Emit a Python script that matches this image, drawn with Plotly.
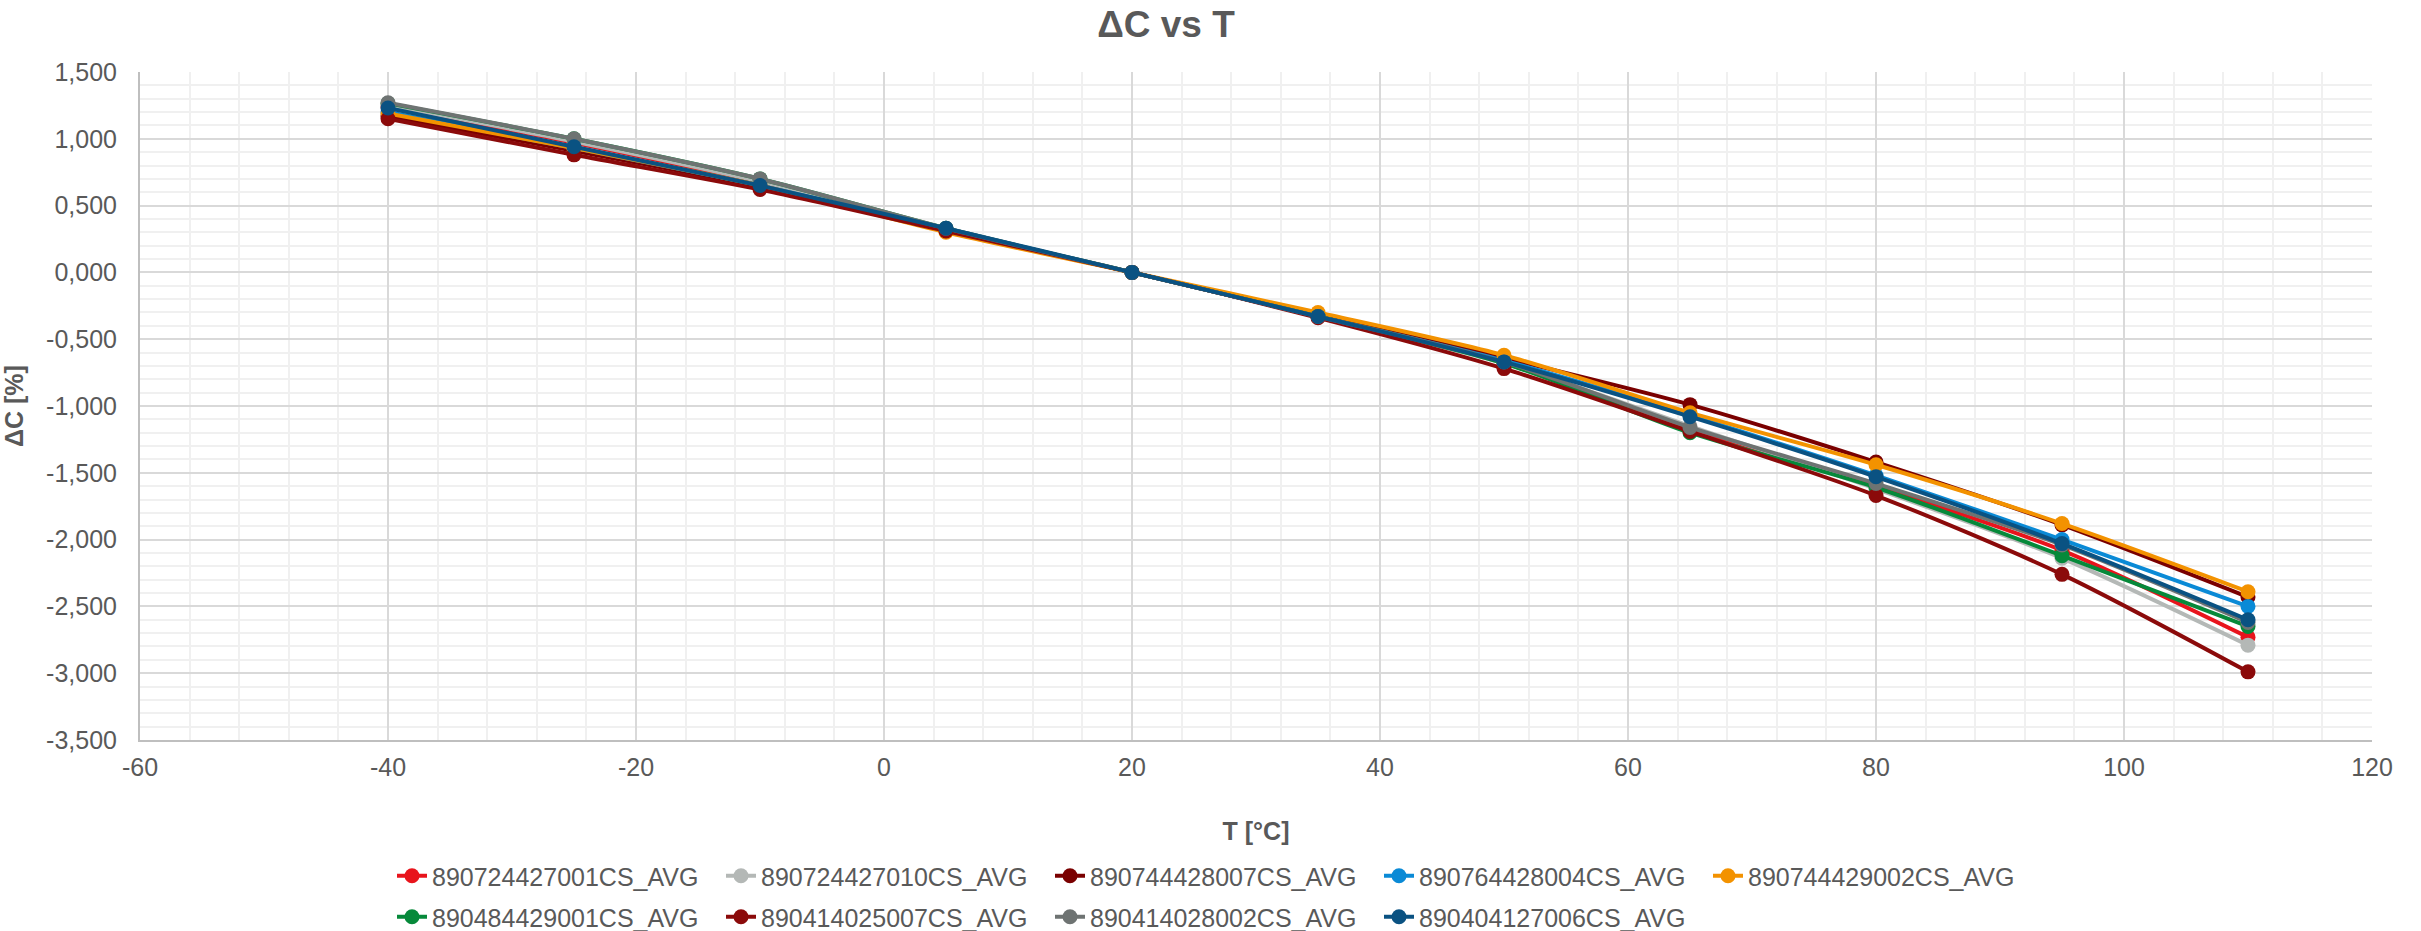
import plotly.graph_objects as go

temps = [-40, -25, -10, 5, 20, 35, 50, 65, 80, 95, 110]

names = [
    "890724427001CS_AVG", "890724427010CS_AVG", "890744428007CS_AVG",
    "890764428004CS_AVG", "890744429002CS_AVG", "890484429001CS_AVG",
    "890414025007CS_AVG", "890414028002CS_AVG", "890404127006CS_AVG",
]

s_724427001 = [1.24, 0.97, 0.67, 0.32, 0.0, -0.33, -0.67, -1.17, -1.60, -2.08, -2.73]
s_724427010 = [1.25, 0.98, 0.68, 0.32, 0.0, -0.33, -0.68, -1.15, -1.62, -2.14, -2.79]
s_744428007 = [1.17, 0.91, 0.64, 0.31, 0.0, -0.32, -0.64, -0.99, -1.42, -1.89, -2.43]
s_764428004 = [1.20, 0.93, 0.65, 0.32, 0.0, -0.33, -0.66, -1.07, -1.52, -2.00, -2.50]
s_744429002 = [1.19, 0.93, 0.65, 0.30, 0.0, -0.30, -0.62, -1.05, -1.44, -1.88, -2.39]
s_484429001 = [1.265, 1.00, 0.70, 0.33, 0.0, -0.33, -0.68, -1.20, -1.61, -2.12, -2.65]
s_414025007 = [1.15, 0.88, 0.62, 0.31, 0.0, -0.34, -0.72, -1.19, -1.67, -2.26, -2.99]
s_414028002 = [1.27, 1.00, 0.70, 0.33, 0.0, -0.33, -0.67, -1.16, -1.58, -2.04, -2.62]
s_404127006 = [1.23, 0.94, 0.65, 0.33, 0.0, -0.33, -0.67, -1.08, -1.53, -2.03, -2.60]

series = [s_724427001, s_724427010, s_744428007, s_764428004, s_744429002,
          s_484429001, s_414025007, s_414028002, s_404127006]

colors = ["#E8141C", "#B4B8B6", "#7A0000", "#0A8AD6", "#F39200",
          "#06893A", "#8B0A0A", "#6E7372", "#0A5282"]

x_tickvals = [-60, -40, -20, 0, 20, 40, 60, 80, 100, 120]
x_ticktext = ["-60", "-40", "-20", "0", "20", "40", "60", "80", "100", "120"]
y_tickvals = [1.5, 1.0, 0.5, 0.0, -0.5, -1.0, -1.5, -2.0, -2.5, -3.0, -3.5]
y_ticktext = ["1,500", "1,000", "0,500", "0,000", "-0,500", "-1,000", "-1,500",
              "-2,000", "-2,500", "-3,000", "-3,500"]

FONT = "Liberation Sans, Arial, sans-serif"
TXT = "#595959"

fig = go.Figure()
for i, (name, vals, col) in enumerate(zip(names, series, colors)):
    fig.add_trace(go.Scatter(
        x=temps, y=vals, name=name, mode="lines+markers",
        line=dict(color=col, width=4, shape="spline", smoothing=0.8),
        marker=dict(color=col, size=15),
        legend="legend" if i < 5 else "legend2",
    ))

# page body margin is removed by post_script; plot area at page px 140..2372 x 72..740
W, H = 2421, 931
L, T = 140, 72
R = W - 2372
B = H - 740
PW = W - L - R
PH = H - T - B


def py(page_y):
    return (740 - page_y) / PH


def px(page_x):
    return (page_x - L) / PW


leg_common = dict(orientation="h", xanchor="left", yanchor="middle",
                  font=dict(size=25, color=TXT, family=FONT),
                  entrywidth=284, entrywidthmode="pixels",
                  traceorder="normal", bgcolor="rgba(0,0,0,0)")

fig.update_layout(
    width=W, height=H,
    paper_bgcolor="white", plot_bgcolor="white",
    margin=dict(l=L, r=R, t=T, b=B, autoexpand=False),
    font=dict(family=FONT, color=TXT, size=25),
    title=dict(text="<b>ΔC vs T</b>", x=1166 / W, xref="container", xanchor="center",
               y=1 - 24 / H, yref="container", yanchor="middle",
               font=dict(size=37, color=TXT, family=FONT)),
    showlegend=True,
    legend=dict(x=px(392), y=py(876), **leg_common),
    legend2=dict(x=px(392), y=py(917), **leg_common),
)

fig.update_xaxes(
    range=[-60, 120], tickvals=x_tickvals, ticktext=x_ticktext,
    showgrid=True, gridcolor="#D9D9D9", gridwidth=2,
    minor=dict(dtick=4, tick0=-60, showgrid=True, gridcolor="#F0F0F0", gridwidth=2),
    showline=True, linecolor="#BFBFBF", linewidth=2,
    zeroline=False, ticks="", ticklabelstandoff=4, tickfont=dict(size=25, color=TXT),
    title=dict(text="<b>T [°C]</b>", font=dict(size=25, color=TXT), standoff=42),
)
fig.update_yaxes(
    range=[-3.5, 1.5], tickvals=y_tickvals, ticktext=y_ticktext,
    showgrid=True, gridcolor="#D9D9D9", gridwidth=2,
    minor=dict(dtick=0.1, tick0=0, showgrid=True, gridcolor="#F0F0F0", gridwidth=2),
    showline=True, linecolor="#BFBFBF", linewidth=2,
    zeroline=False, ticks="", ticklabelstandoff=16, tickfont=dict(size=25, color=TXT),
    title=dict(text="<b>ΔC [%]</b>", font=dict(size=25, color=TXT), standoff=20),
)

fig.write_html("out.html",
               config={"displayModeBar": False},
               post_script="document.body.style.margin='0';document.body.style.overflow='hidden';")
